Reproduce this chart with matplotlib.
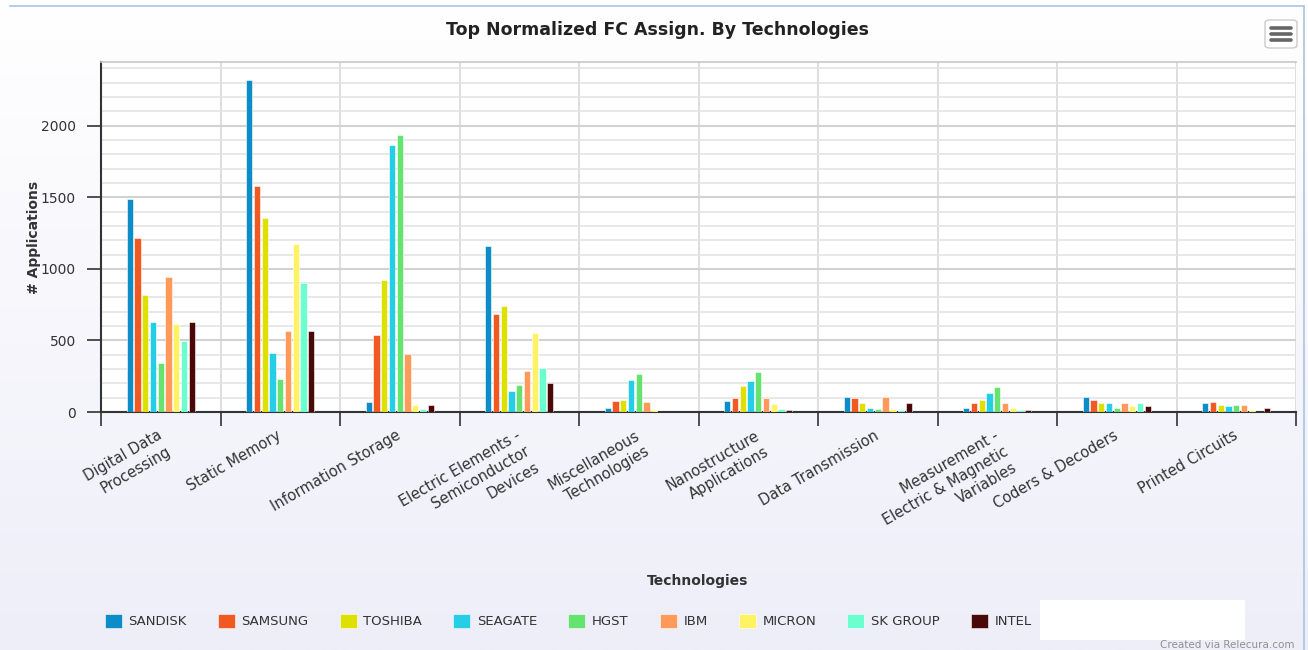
import numpy as np
import matplotlib
matplotlib.use("Agg")
import matplotlib.pyplot as plt
from matplotlib.patches import Rectangle, FancyBboxPatch
from matplotlib.ticker import MultipleLocator, FixedLocator, NullFormatter

categories = [
    "Digital Data\nProcessing", "Static Memory", "Information Storage",
    "Electric Elements -\nSemiconductor\nDevices", "Miscellaneous\nTechnologies",
    "Nanostructure\nApplications", "Data Transmission",
    "Measurement -\nElectric & Magnetic\nVariables", "Coders & Decoders",
    "Printed Circuits",
]
companies = ["SANDISK", "SAMSUNG", "TOSHIBA", "SEAGATE", "HGST", "IBM",
             "MICRON", "SK GROUP", "INTEL"]
colors = ["#0c8dc8", "#f05a22", "#dde000", "#26cde6", "#66e36e", "#ff9a5a",
          "#fff263", "#6bffd0", "#4a0808"]

sandisk = [1486, 2319, 70, 1161, 31, 77, 103, 31, 103, 61]
samsung = [1214, 1577, 539, 686, 77, 95, 95, 61, 86, 71]
toshiba = [814, 1358, 921, 740, 86, 184, 61, 86, 61, 49]
seagate = [632, 414, 1865, 149, 222, 216, 31, 130, 61, 40]
hgst = [344, 232, 1935, 186, 266, 279, 23, 177, 31, 49]
ibm = [942, 569, 405, 288, 71, 95, 103, 61, 61, 49]
micron = [616, 1177, 51, 549, 12, 58, 23, 31, 45, 12]
sk_group = [498, 904, 23, 304, 3, 23, 12, 12, 61, 3]
intel = [632, 569, 52, 204, 0, 16, 61, 16, 40, 26]
series = [sandisk, samsung, toshiba, seagate, hgst, ibm, micron, sk_group, intel]

W, H = 1308, 650
fig = plt.figure(figsize=(W / 100, H / 100), dpi=100)

# background gradient
bg = fig.add_axes([0, 0, 1, 1], zorder=-10)
grad = np.linspace(1, 0, 256).reshape(-1, 1)
top_c = np.array([1.0, 1.0, 1.0])
bot_c = np.array([0xee, 0xee, 0xf9]) / 255
img = grad[..., None] * top_c + (1 - grad[..., None]) * bot_c
bg.imshow(img, aspect="auto", extent=[0, 1, 0, 1], origin="upper")
bg.set_xlim(0, 1); bg.set_ylim(0, 1)
bg.axis("off")
# container border (top and right)
bg.plot([10 / W, 1304 / W], [1 - 6 / H, 1 - 6 / H], color="#a8c4e4", lw=1.2)
bg.plot([1304 / W, 1304 / W], [1 - 6 / H, 0], color="#a8c4e4", lw=1.2)
# white masked area near legend end
bg.add_patch(Rectangle((1040 / W, 1 - 640 / H), 205 / W, 40 / H, color="white", lw=0))

left, right, top, bottom = 101, 1296, 62, 412
ax = fig.add_axes([left / W, 1 - bottom / H, (right - left) / W, (bottom - top) / H])
ax.set_facecolor("white")

x = np.arange(len(categories))
step = 0.065
bw = 0.052
for i, (vals, c, name) in enumerate(zip(series, colors, companies)):
    ax.bar(x + (i - 4) * step, vals, width=bw, color=c, edgecolor="white",
           linewidth=0.4, label=name, zorder=3)

ax.set_xlim(-0.5, len(categories) - 0.5)
ax.set_ylim(0, 2445)

ax.yaxis.set_major_locator(MultipleLocator(500))
ax.yaxis.set_minor_locator(MultipleLocator(100))
ax.grid(axis="y", which="major", color="#d2d2d2", lw=1.5, zorder=0)
ax.grid(axis="y", which="minor", color="#e2e2e2", lw=1.1, zorder=0)

ax.xaxis.set_major_locator(FixedLocator(np.arange(-0.5, len(categories), 1.0)))
ax.xaxis.set_major_formatter(NullFormatter())
ax.grid(axis="x", which="major", color="#d8d8d8", lw=1.2, zorder=0)

for s in ["left", "bottom"]:
    ax.spines[s].set_color("#333333")
    ax.spines[s].set_linewidth(1.5)
ax.spines["top"].set_color("#c8c8c8")
ax.spines["top"].set_linewidth(1.2)
ax.spines["right"].set_visible(False)

ax.tick_params(axis="x", which="major", length=10, width=1.2, color="#333333",
               direction="out")
ax.tick_params(axis="y", which="major", length=10, width=1.2, color="#333333",
               labelsize=10, labelcolor="#333333", pad=8)
ax.tick_params(axis="y", which="minor", length=0)

for xi, lab in zip(x, categories):
    ax.text(xi - 0.03, -0.045, lab, transform=ax.get_xaxis_transform(),
            rotation=30, rotation_mode="anchor", ha="right", va="top",
            multialignment="right", fontsize=10.5, color="#333333",
            linespacing=1.3)

ax.set_ylabel("# Applications", fontsize=10, fontweight="bold", color="#333333",
              labelpad=-2)
ax.yaxis.set_label_coords(-0.05, 0.5)

fig.text(658 / W, 1 - 30 / H, "Top Normalized FC Assign. By Technologies",
         ha="center", va="center", fontsize=12.5, fontweight="bold", color="#222222")
fig.text(698 / W, 1 - 581 / H, "Technologies", ha="center", va="center",
         fontsize=10, fontweight="bold", color="#333333")
fig.text(1295 / W, 1 - 645 / H, "Created via Relecura.com", ha="right",
         va="center", fontsize=7.5, color="#909090")

# menu icon
mx, my = 1265 / W, 1 - 48 / H
bg.add_patch(FancyBboxPatch((mx, my), 32 / W, 28 / H,
                            boxstyle="round,pad=0,rounding_size=0.004",
                            fc="white", ec="#cccccc", lw=1))
for dy in (8, 14, 20):
    yy = 1 - (20 + dy) / H
    bg.plot([1271 / W, 1291 / W], [yy, yy], color="#666666", lw=2.6,
            solid_capstyle="round")

handles, labels = ax.get_legend_handles_labels()
leg = fig.legend(handles, labels, loc="center", bbox_to_anchor=(568 / W, 1 - 621 / H),
                 ncol=9, frameon=False, fontsize=9.5, handlelength=1.3,
                 handleheight=1.3, handletextpad=0.5, columnspacing=2.35,
                 labelcolor="#333333")

fig.savefig("out.png", dpi=100)
